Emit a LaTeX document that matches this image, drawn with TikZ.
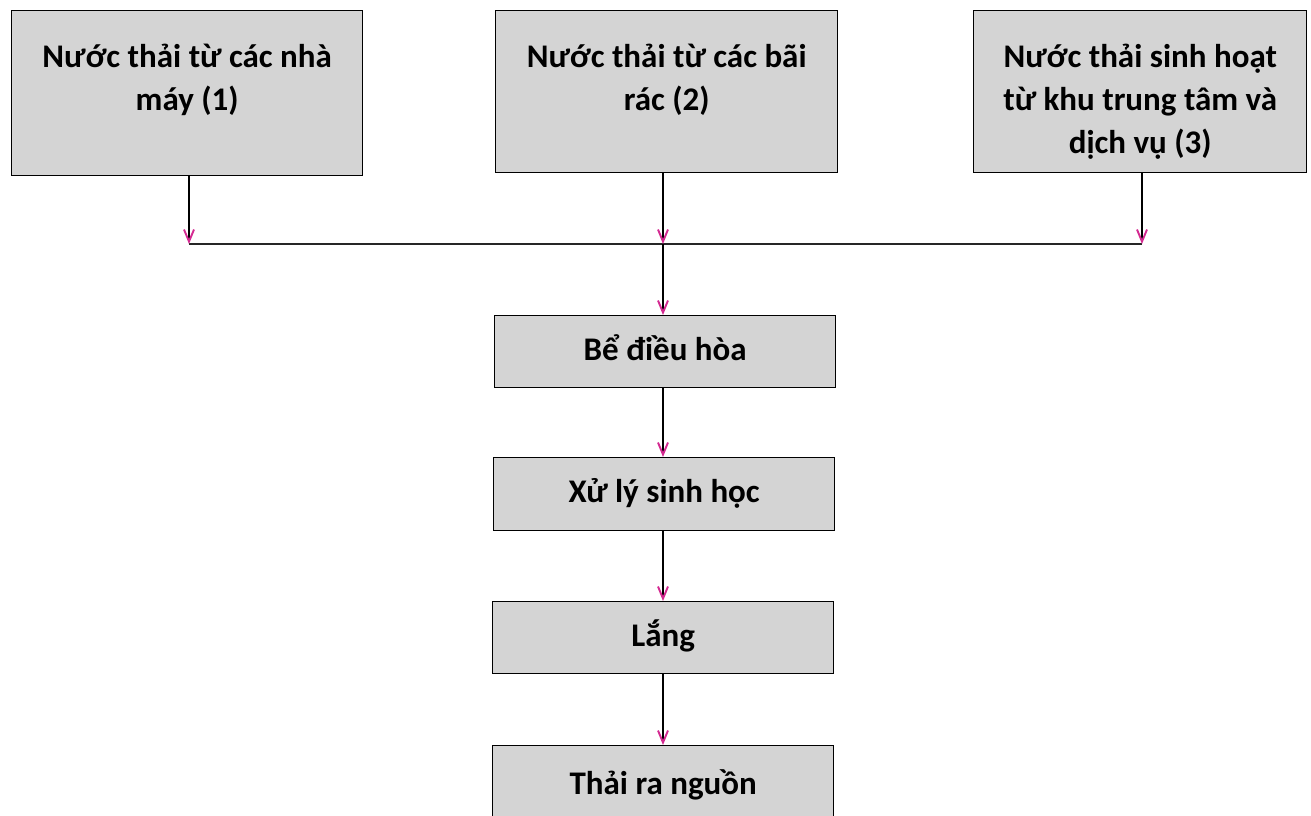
\documentclass[tikz,border=0pt]{standalone}
\usepackage{fontspec}
\setmainfont{Carlito}
\usetikzlibrary{arrows.meta}
\definecolor{boxfill}{HTML}{D4D4D4}
\definecolor{tipcol}{HTML}{D42A91}
\begin{document}
\begin{tikzpicture}[x=1pt,y=-1pt,
  stagebox/.style={draw=black, line width=1.4pt, fill=boxfill, anchor=north west, inner sep=0pt,
    font=\fontsize{33}{43}\selectfont\bfseries, text height=24pt, text depth=7pt},
  srctext/.style={font=\fontsize{33}{43}\selectfont\bfseries, align=center, anchor=north, inner sep=0pt},
  flow/.style={draw=black, line width=1.4pt,
    -{Straight Barb[length=12pt,width=10pt,color=tipcol,line width=1.9pt]}},
  joinline/.style={draw=black!85, line width=1.1pt}]
\useasboundingbox (0,0) rectangle (1311,816);
\clip (0,0) rectangle (1311,816);

% source boxes
\node[stagebox, minimum width=351pt, minimum height=165pt] (s1) at (11,10) {};
\node[stagebox, minimum width=342pt, minimum height=162pt] (s2) at (495,10) {};
\node[stagebox, minimum width=333pt, minimum height=162pt] (s3) at (973,10) {};
\node[srctext] (t1) at ([yshift=-34pt]s1.north) {Nước thải từ các nhà\\máy (1)};
\node[srctext] (t2) at ([yshift=-34pt]s2.north) {Nước thải từ các bãi\\rác (2)};
\node[srctext] (t3) at ([yshift=-34pt]s3.north) {Nước thải sinh hoạt\\từ khu trung tâm và\\dịch vụ (3)};

% treatment stages
\node[stagebox, minimum width=341pt, minimum height=72pt] (b1) at (494,315) {Bể điều hòa};
\node[stagebox, minimum width=341pt, minimum height=73pt] (b2) at (493,457) {Xử lý sinh học};
\node[stagebox, minimum width=341pt, minimum height=72pt] (b3) at (492,601) {Lắng};
\node[stagebox, minimum width=341pt, minimum height=80pt] (b4) at (492,745) {Thải ra nguồn};

% collector line
\coordinate (j1) at (189,244);
\coordinate (j2) at (663,244);
\coordinate (j3) at (1142,244);
\draw[joinline] (j1) -- (j3);
\draw[flow] (s1.south -| j1) -- (j1);
\draw[flow] (s3.south -| j3) -- (j3);
\draw[flow] (s2.south -| j2) -- (j2);
\draw[flow] (j2) -- (b1.north -| j2);
\draw[flow] (b1.south -| j2) -- (b2.north -| j2);
\draw[flow] (b2.south -| j2) -- (b3.north -| j2);
\draw[flow] (b3.south -| j2) -- (b4.north -| j2);
\end{tikzpicture}
\end{document}
